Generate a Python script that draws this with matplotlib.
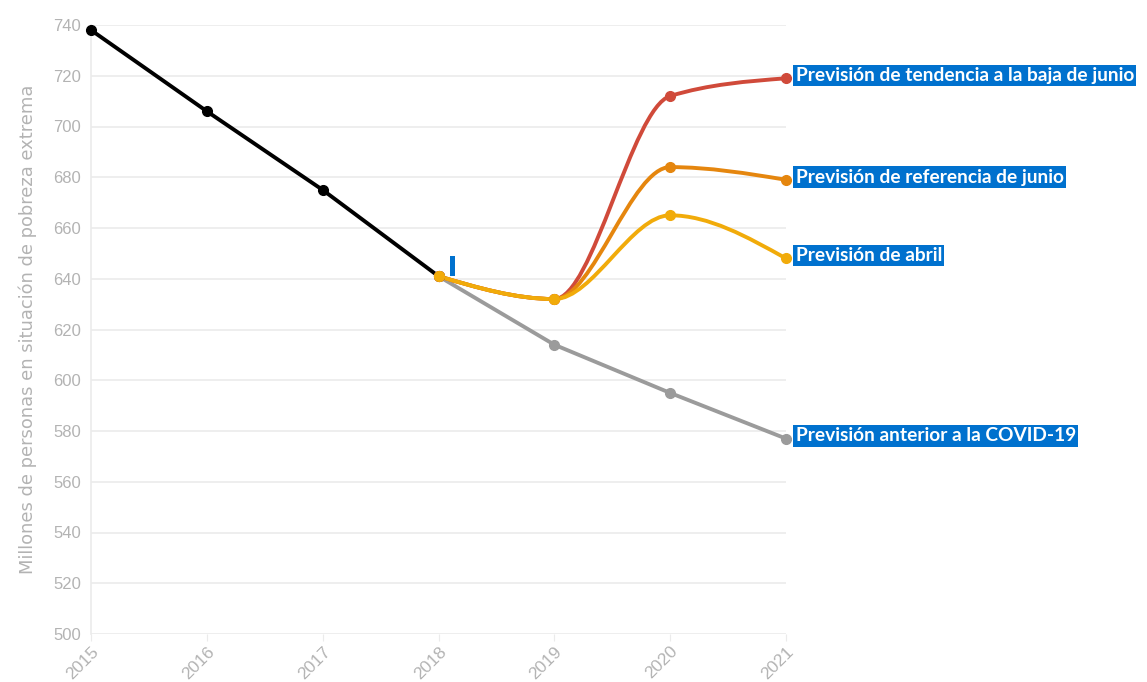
import numpy as np
import matplotlib
matplotlib.use("Agg")
import matplotlib.pyplot as plt
from matplotlib.path import Path
from matplotlib.patches import PathPatch, Rectangle

years = [2015, 2016, 2017, 2018, 2019, 2020, 2021]

hist_x = [2015, 2016, 2017, 2018]
hist_y = [738, 706, 675, 641]

fc_x = [2018, 2019, 2020, 2021]
pre_covid = [641, 614, 595, 577]
abril = [641, 632, 665, 648]
ref_junio = [641, 632, 684, 679]
baja_junio = [641, 632, 712, 719]

# (x, y, colour, label, smooth)
series = [
    (hist_x, hist_y, "#000000", None, False),
    (fc_x, pre_covid, "#9b9b9b", "Previsión anterior a la COVID-19", False),
    (fc_x, baja_junio, "#d04a3a", "Previsión de tendencia a la baja de junio", True),
    (fc_x, ref_junio, "#e5860e", "Previsión de referencia de junio", True),
    (fc_x, abril, "#f1ab0a", "Previsión de abril", True),
]

label_bg = "#0071ce"
grey_txt = "#b3b3b3"


def monotone_path(xs, ys):
    # d3 curveMonotoneX as cubic bezier segments
    xs = np.asarray(xs, float)
    ys = np.asarray(ys, float)
    n = len(xs)
    h = np.diff(xs)
    s = np.diff(ys) / h
    t = np.zeros(n)
    for i in range(1, n - 1):
        p = (s[i - 1] * h[i] + s[i] * h[i - 1]) / (h[i - 1] + h[i])
        t[i] = (np.sign(s[i - 1]) + np.sign(s[i])) * min(abs(s[i - 1]), abs(s[i]), 0.5 * abs(p))
    t[0] = (3 * s[0] - t[1]) / 2
    t[-1] = (3 * s[-1] - t[-2]) / 2
    verts = [(xs[0], ys[0])]
    codes = [Path.MOVETO]
    for i in range(n - 1):
        dx = h[i] / 3
        verts += [(xs[i] + dx, ys[i] + dx * t[i]),
                  (xs[i + 1] - dx, ys[i + 1] - dx * t[i + 1]),
                  (xs[i + 1], ys[i + 1])]
        codes += [Path.CURVE4] * 3
    return Path(verts, codes)


fig = plt.figure(figsize=(11.47, 6.82), dpi=100)
ax = fig.add_axes([91 / 1147, 1 - 634 / 682, (786 - 91) / 1147, (634 - 25) / 682])

for xs, ys, col, lab, smooth in series:
    if smooth:
        ax.add_patch(PathPatch(monotone_path(xs, ys), facecolor="none", edgecolor=col,
                               lw=2.8, capstyle="round", joinstyle="round", zorder=3))
    else:
        ax.plot(xs, ys, color=col, lw=2.8, solid_capstyle="round", zorder=2)
    ax.plot(xs, ys, "o", color=col, ms=7, zorder=4, clip_on=False)
    if lab:
        ax.annotate(lab, (xs[-1], ys[-1]), xytext=(7, 2), textcoords="offset points",
                    va="center", ha="left", color="white", fontsize=13.8,
                    fontweight="bold", family="Lato", annotation_clip=False,
                    bbox=dict(boxstyle="square,pad=0.12", fc=label_bg, ec="none"))

# small blue marker near 2018
ax.add_patch(Rectangle((2018.1, 641), 0.045, 8, facecolor=label_bg, edgecolor="none", zorder=5))

ax.set_xlim(2015, 2021)
ax.set_ylim(500, 740)
ax.set_yticks(range(500, 741, 20))
ax.set_xticks(years)
ax.set_xticklabels([str(y) for y in years], rotation=45, ha="right", rotation_mode="anchor",
                   family="Liberation Sans")
for lbl in ax.get_yticklabels():
    lbl.set_family("Liberation Sans")
ax.grid(axis="y", color="#ebebeb", lw=1.2)
ax.set_axisbelow(True)
for sp in ["top", "right", "bottom"]:
    ax.spines[sp].set_visible(False)
ax.spines["left"].set_color("#ebebeb")
ax.spines["left"].set_linewidth(1.2)
ax.tick_params(axis="y", length=0, pad=7, labelsize=12, labelcolor=grey_txt)
ax.tick_params(axis="x", length=5, color="#ebebeb", pad=2, labelsize=12.5, labelcolor=grey_txt)
ax.set_ylabel("Millones de personas en situación de pobreza extrema",
              color=grey_txt, fontsize=12.9, labelpad=12)

fig.savefig("out.png", dpi=100)
